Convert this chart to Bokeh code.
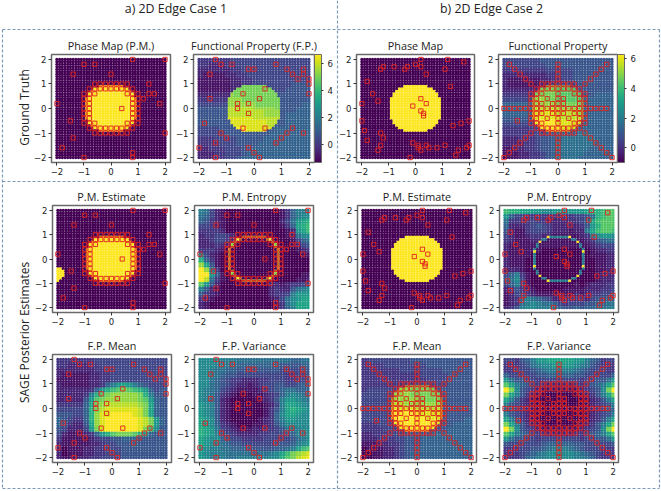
from bokeh.plotting import figure
from bokeh.layouts import column, row
from bokeh.models import ColumnDataSource, LinearColorMapper, ColorBar, FixedTicker, Range1d
from bokeh.palettes import Viridis256
from bokeh.transform import transform
from bokeh.core.properties import value
from bokeh.embed import file_html
from bokeh.resources import INLINE

TICKS = [-2, -1, 0, 1, 2]
TICK_LABELS = {-2: "\u22122", -1: "\u22121", 0: "0", 1: "1", 2: "2"}
CBAR_TICKS = [0, 2, 4, 6]

# half width of the yellow disc, rows y = .9 ... -.9 (step .1)
DISC_HALF = [.4, .6, .7, .8, .8, .9, .9, .9, .9, .9, .9, .9, .9, .9, .8, .8, .7, .6, .4]
BLOB = [(-2, -.4), (-1.9, -.4), (-2, -.5), (-1.9, -.5), (-1.8, -.5), (-2, -.6), (-1.9, -.6), (-1.8, -.6),
        (-2, -.7), (-1.9, -.7), (-1.8, -.7), (-2, -.8), (-1.9, -.8), (-2, -.9)]

# sampled points
A1_X = [-2, -1.5, -1.4, -1.8, -1, -1, -.6, -1.4, 0, .8, 2, 1.4, 1.4, 1.6, 1.2, 1.8, 2, .8, .8, .4]
A1_Y = [.2, -.5, -1.2, -1.6, -2, 1.8, 1.8, 1.4, 1.4, 2, 2, 1, .6, .6, .4, .2, -1, -1.8, -2, 0]
RING_ROWS = [1, .8, .6, .4, .2, 0, -.2, -.4, -.6, -.8, -1]
RING_COLS = [
    [-.6, -.4, -.2, 0, .2, .4, .6],
    [-.8, -.6, -.4, -.2, 0, .2, .4, .6, .8],
    [-1, -.8, -.6, .6, .8, 1],
    [-1, -.8, .8, 1], [-1, -.8, .8, 1], [-1, -.8, .8, 1], [-1, -.8, .8, 1], [-1, -.8, .8, 1],
    [-1, -.8, -.6, .6, .8, 1],
    [-.8, -.6, -.4, -.2, 0, .2, .4, .6, .8],
    [-.6, -.4, -.2, 0, .2, .4, .6],
]
A2_X = [-1.4, -1.2, -.8, .8, 1.2, 1.8, 1.4, 1.8, 1.6, 2, 2, 2, -.2, 0, -1.6, -1.6, -.4, .4, .2, -.2, -.6, -.6, -.2,
        -1.8, -.4, .4, -1.2, -1, -1.4, -2, -1.4, -.2, 0, .2, .8, 1, 1.2, 1.4, 1.8]
A2_Y = [2, 1.8, 1.8, 1.8, 1.6, 1.6, 1.4, 1.4, 1.2, 1.2, 1, .6, 1.6, 1.6, 1.4, .4, .6, .8, .4, .2, .2, 0, -.2,
        -.6, -.8, -.8, -1, -1.2, -1.4, -1.6, -2, -1.6, -1.8, -2, -1.4, -1.2, -1, -.8, -1]
B1_X = [.2, 1.2, 1.8, 0, -1.2, -1.3, -.8, -.4, -.3, .2, 1.1, .4, -1.8, 1.3, -1.6, -1.4, -2, .2, .4, -.1, .2, .3, .3,
        -2, 2, 1.7, 1.4, -1.9, -1.8, -1.3, -1.2, -1.3, -1.4, -.1, .1, .1, .2, .4, .5, .8, 1.1, 1.6, 1.5, 1.9, 2, -.2]
B1_Y = [2, 2, 1.9, 1.8, 1.7, 1.6, 1.7, 1.6, 1.7, 1.7, 1.6, 1.4, 1.1, .9, .6, .3, .2, .4, .2, .1, -.1, -.2, -.3,
        -.5, -.5, -.6, -.7, -.9, -1.3, -1, -1.2, -1.5, -1.7, -1.4, -1.5, -1.6, -1.7, -1.5, -1.6, -1.6, -1.5, -1.7, -1.9, -1.6, -1.5, -2]
STAR_ROWS = [1.8, 1.6, 1.4, 1.2, 1, .8, .6, .4, .2, 0, -.2, -.4, -.5, -.6, -.8, -1, -1.2, -1.4, -1.6, -1.8, -2]
STAR_COLS = [
    [-1.8, 0, 1.8], [-1.6, 0, 1.6], [-1.4, 0, 1.4], [-1.2, 0, 1.2],
    [-1, -.6, -.4, -.2, 0, .2, .4, .6, 1],
    [-.8, -.6, -.4, -.2, 0, .2, .4, .6, .8],
    [-1, -.8, -.6, 0, .6, .8, 1],
    [-1, -.8, -.4, 0, .2, .8, 1],
    [-1, -.8, -.6, -.2, 0, .2, .8, 1],
    [-2, -1.8, -1.6, -1.4, -1.2, -1, -.8, -.6, -.4, -.2, 0, .2, .4, .6, .8, 1, 1.2, 1.4, 1.6, 1.8],
    [-1, -.8, -.6, -.2, 0, .2, .6, .8, 1],
    [-1, -.8, -.4, 0, .4, .8, 1],
    [-1.5],
    [-1, -.8, -.6, 0, .6, .8, 1],
    [-.8, -.6, -.4, -.2, 0, .2, .4, .6, .8],
    [-1, -.6, -.4, -.2, 0, .2, .4, .6, 1],
    [-1.2, 0, 1.2], [-1.4, 0, 1.4], [-1.6, 0, 1.6], [-1.8, 0, 1.8], [-2, 0, 2],
]

# colour levels (base 36 digit, 0..j = low..high of viridis), y = 2 ... -2, x = -2 ... 2
FP1 = """333333444444444444444 332223344444444444444 222222334444444444444 211112233444444444444 111111223344444444444
111111223344444445555 111111223344444455555 222222334445555555555 333333344455555555555 444444445555555555566
555555555555555555666 555555555555555566666 555555555555555566666 555555555555555566666 444455555555556666666
444445555555566666666 333444455555666666666 333344455556666666666 223334445566666666666 222334445666666666666
222334456666666666666""".split()
FP1_DISC = "fffffffffff fffffffffff ggfffffffff gggffffffff ggggggfffff hhhhhggggff hhhhhhhgggg iiiiihhhhhh iiiiiiiihhh jjjjiiiiiii jjjjjjjjjjj".split()
FP2 = """444444455555555555555 444444445555555555555 333333334444455555555 222222223344455555555 211111122334455555555
211111122334445555555 222222223344445555555 333333334444455556666 444444444555556666666 666666666666666666666
666666666666666666666 666666666666666666666 555555555566666666666 444444445566666666666 333334445566666666666
333333445566667766666 222333455667777776666 222233455677777776666 112233455677777766666 111223345677777666666
011223345677776666666""".split()
FP2_DISC = "fffffeeeeee fffffeeeeee fffffeeeeee gggffeeeeee gggggfffffe hhhhhhgggff iiiiihhhhgg iiiiiihhhhh jjjjjiiiiii jjjjjjiiiii jjjjjjjjjjj".split()
ENT1 = """874210000000000136888 764210000000000136899 653210000000000247abc 443210000000000136bcd 333320000000000012abd
233443200000000012799 223443200000000001467 222322000000000001245 333210000000000000123 842100000000000000011
c63100000000000000000 gb5100000000000000000 jg8300000000000000000 jja510000000000000011 jh7310000000000000112
ea5200000000022123344 852100000000023225789 532100000000023348aaa 321000000000012479abb 210000000000001379bbb
210000000000001368bbb""".split()
ENT2 = """dccbbaa99aa9aaabccdee a6443333333334457cdee 7333343322223346bdeee 6222345432222235aceee 5211344432221228bdeed
421123322111112389aa9 321112211111111235677 211111111111111123444 211111100000000012233 211110000000000011122
211100000000000001122 211100000000000001122 222100000000000001122 468310000000000001222 579410000000000001223
468410000000010122233 235321000001111222334 124432111111121233445 123687654223333245566 123789877643444556677
235899888765565667788""".split()
MEAN1 = """333333344444444444444 332222334444444444444 222222233444444444444 211111223344444444444 111111223344444444445
21111122368aba8654445 22222236acdefedca6455 2222238cefgggggfc8555 222225aefggggggfea655 333336bfghhhhhhgfb655
444446cfhiiiiiihfb655 555446cgiijjjjihfb655 654336cgijjjjjjihfa65 653225bgijjjjjjihfa65 542224afijjjjjjifd955
42111236acefffeca6555 311111234455666555555 211111223445556555555 201112233444555555555 201112233444555555555
211122334444555555555""".split()
VAR1 = """999988877777777776677 999887766666666555566 998776655555555444455 998765544444444433445 997654332223344433445
997654322123445544566 987643211112345677666 987532100011234689877 9875210000012358aa987 a985210000001248bba98
a985210000001358bcba9 a985210000001369bba99 ba95210000012368aa999 ba9632100011235799999 cba743211122334578899
cba854322223344456889 ba9965443333444445789 ba987655444444555689a a98877666555556678bde a98887777767789bdfghi
a98887788888899cefhij""".split()
MEAN2 = """344444444555555555555 333344444444555555555 333333344444444555555 333333333334444455555 333333333333444455555
333333333344444455555 344444444444445555555 444444444444555555555 444444444455555555555 444444444555555555555
444444445555555555555 444444445555555555555 444444445555555555566 333444445555555556666 333344445555555566666
223334445555566666666 222333445556666666666 111223345556666666666 011122345566666666666 001122345666666666666
001122345666666666666""".split()
MEAN2_DISC = "ggfffffffff ggggfffffff ggggfffffff ggggggfffff hhhgggggggg iiiiihhhhhh jjjjjjiiiii jjjjjjjiiii jjjjjjjjjii jjjjjjjjjjj jjjjjjjjjjj".split()
VAR2 = """443568aabbbbbaa865344 333457899aaaa98754333 334445678888876544433 644444556666655444446 a7554434444444344557a
eb86543322222334568be jf95432111111123459fj fb85321000000012358bf b8532100000000012358b 854321000000000123458
654321000000000123456 854321000000000123458 b8532100000000012358b fb85321000000012358bf jf95432111111123459fj
eb86543322222334568be a7554434444444344557a 544444456666655444445 333445567888765444333 333456789999987654333
333467889999988764333""".split()
YELLOW2 = [(-.9, .3), (-.7, .7), (-.4, .9), (.4, .9), (.7, .7), (.9, .3), (.9, -.3), (.7, -.7), (.4, -.9), (-.4, -.9), (-.7, -.7), (-.9, -.3)]
YELLOW1 = [(-.9, .4), (-.9, 0), (-.9, -.4), (-.6, .8), (-.2, .9), (.2, .9), (.6, .8), (.9, .4), (.9, 0), (.9, -.4), (.6, -.8), (.2, -.9), (-.2, -.9), (-.6, -.8)]

TITLES = ["Phase Map (P.M.)", "Functional Property (F.P.)", "Phase Map", "Functional Property",
          "P.M. Estimate", "P.M. Entropy", "P.M. Estimate", "P.M. Entropy",
          "F.P. Mean", "F.P. Variance", "F.P. Mean", "F.P. Variance"]
FRAMES = [(51, 170, 54, 162), (193, 314, 54, 162), (356, 474, 54, 162), (498, 617, 54, 162),
          (52, 170, 205, 312), (194, 313, 205, 312), (357, 476, 205, 312), (499, 618, 205, 312),
          (52, 171, 354, 462), (194, 313, 354, 462), (357, 476, 354, 462), (499, 618, 354, 462)]
GRID = [i / 10 for i in range(-20, 21)]

FONT = "Open Sans"
RED = "#e0211d"
BLUE = "#7c9ab8"


def expand(rows):
    return [r.ljust(21, r[-1])[:21] for r in rows]


def in_disc(x, y):
    k = round((.9 - y) * 10)
    return 0 <= k < len(DISC_HALF) and abs(x) <= DISC_HALF[k] + 1e-6


def fine_grid(rows=None, disc=None, ring=None, yellow=(), phase=False, blob=False):
    xs, ys, vs = [], [], []
    rows = expand(rows) if rows else None
    for j, y in enumerate(reversed(GRID)):
        for i, x in enumerate(GRID):
            if phase:
                v = 19 if in_disc(x, y) else 0
                if blob and any(abs(x - a) < .01 and abs(y - b) < .01 for a, b in BLOB):
                    v = 19
            else:
                v = int(rows[j * 21 // 41][i * 21 // 41], 36)
                if disc and in_disc(x, y):
                    v = int(disc[round((1 - y) / .2)][round((x + 1) / .2)], 36)
                if ring and in_disc(x, y):
                    edge = not (in_disc(round(x - .1, 1), y) and in_disc(round(x + .1, 1), y)
                                and in_disc(x, round(y - .1, 1)) and in_disc(x, round(y + .1, 1)))
                    if edge:
                        v = 19 if any(abs(x - a) < .01 and abs(y - b) < .01 for a, b in yellow) else int(ring, 36)
            xs.append(x); ys.append(y); vs.append(v)
    return dict(x=xs, y=ys, v=vs)


def pts(xs=(), ys=(), row_y=(), row_x=()):
    ox, oy = list(xs), list(ys)
    for y, cols in zip(row_y, row_x):
        for x in cols:
            ox.append(x); oy.append(y)
    return ox, oy


A1 = pts(A1_X, A1_Y, RING_ROWS, RING_COLS)
A2 = (A2_X, A2_Y)
B1 = (B1_X, B1_Y)
B2 = pts((), (), STAR_ROWS, STAR_COLS)

FIELDS = [
    dict(phase=True), dict(rows=FP1, disc=FP1_DISC), dict(phase=True), dict(rows=FP2, disc=FP2_DISC),
    dict(phase=True, blob=True), dict(rows=ENT1, ring="g", yellow=YELLOW1), dict(phase=True), dict(rows=ENT2, ring="8", yellow=YELLOW2),
    dict(rows=MEAN1), dict(rows=VAR1), dict(rows=MEAN2, disc=MEAN2_DISC), dict(rows=VAR2),
]
SAMPLES = [A1, A2, B1, B2, A1, A1, B1, B1, A2, A2, B2, B2]
CBARS = {1: (-1.3, 6.64), 3: (-1.0, 6.3)}

BORDER_L, BORDER_R, BORDER_T, BORDER_B = 30, 6, 24, 22


def panel(k):
    L, R, T, B = FRAMES[k]
    mapper = LinearColorMapper(palette=Viridis256, low=0, high=19)
    p = figure(width=None, height=None, frame_width=R - L, frame_height=B - T,
               x_range=Range1d(-2.2, 2.2), y_range=Range1d(-2.2, 2.2),
               output_backend="svg", toolbar_location=None,
               min_border_left=BORDER_L, min_border_right=BORDER_R,
               min_border_top=BORDER_T, min_border_bottom=BORDER_B,
               title=TITLES[k], border_fill_alpha=0, background_fill_color="white")
    p.title.align = "center"
    p.title.text_font = FONT
    p.title.text_font_size = "10.8px"
    p.title.text_font_style = "normal"
    p.title.text_color = "#222222"
    p.title.standoff = 4
    p.outline_line_color = "#6a6a6a"
    p.outline_line_width = 1.5
    p.grid.visible = False
    for ax in (p.xaxis[0], p.yaxis[0]):
        ax.ticker = FixedTicker(ticks=TICKS)
        ax.major_label_overrides = TICK_LABELS
        ax.major_label_text_font = "DejaVu Sans"
        ax.major_label_text_font_size = "8.5px"
        ax.major_label_text_color = "#222222"
        ax.major_tick_line_color = "#333333"
        ax.major_tick_out = 3
        ax.major_tick_in = 0
        ax.minor_tick_line_color = None
        ax.axis_line_color = None
        ax.major_label_standoff = 2
    src = ColumnDataSource(fine_grid(**FIELDS[k]))
    p.scatter("x", "y", source=src, marker="circle", size=3.2, line_color=None,
              fill_color=transform("v", mapper))
    sx, sy = SAMPLES[k]
    p.scatter(sx, sy, marker="square", size=4.2, fill_color=None, line_color=RED, line_width=0.9)
    if k in CBARS:
        lo, hi = CBARS[k]
        cm = LinearColorMapper(palette=Viridis256, low=lo, high=hi)
        cb = ColorBar(color_mapper=cm, width=7, height=B - T, padding=0, margin=4,
                      ticker=FixedTicker(ticks=CBAR_TICKS), major_label_text_font="DejaVu Sans",
                      major_label_text_font_size="8.5px", major_label_text_color="#222222",
                      major_tick_line_color="#333333", major_tick_out=2, major_tick_in=0,
                      bar_line_color="#6a6a6a", bar_line_width=1, label_standoff=4, location=(0, 0))
        p.add_layout(cb, "right")
    return p


bg = figure(width=None, height=None, frame_width=661, frame_height=491, x_range=Range1d(0, 661), y_range=Range1d(491, 0),
            output_backend="svg", toolbar_location=None, min_border=0,
            min_border_left=0, min_border_right=0, min_border_top=0, min_border_bottom=0,
            x_axis_location=None, y_axis_location=None, border_fill_alpha=0,
            background_fill_alpha=0)
bg.outline_line_color = None
bg.grid.visible = False
H_Y = [29, 181, 488]
for y in H_Y:
    bg.line([2, 659], [y, y], line_color=BLUE, line_width=1.2, line_dash="3 2")
for x, y0, y1 in [(2, 29, 488), (337, 0, 491), (659, 29, 488)]:
    bg.line([x, x], [y0, y1], line_color=BLUE, line_width=1.2, line_dash="3 2")
bg.text([177, 491], [8, 8], text=["a)  2D Edge Case 1", "b) 2D Edge Case 2"], text_font=value(FONT),
        text_font_size="12.4px", text_align="center", text_baseline="middle", text_color="#222222")
bg.text([24, 24], [107, 332], text=["Ground Truth", "SAGE Posterior Estimates"], angle=1.5708, text_font=value(FONT),
        text_font_size="12px", text_align="center", text_baseline="middle", text_color="#222222")

children = [row(bg, margin=(0, 0, 0, 0))]
cursor = 491
for k in range(12):
    L, R, T, B = FRAMES[k]
    p = panel(k)
    top = T - BORDER_T
    h = BORDER_T + (B - T) + BORDER_B
    p.margin = (top - cursor, 0, 0, L - BORDER_L)
    cursor = top + h
    children.append(p)
children[-1].margin = (children[-1].margin[0], 0, 491 - cursor, children[-1].margin[3])

page = column(children=children, spacing=0)
open("out.html", "w").write(file_html(page, INLINE))
